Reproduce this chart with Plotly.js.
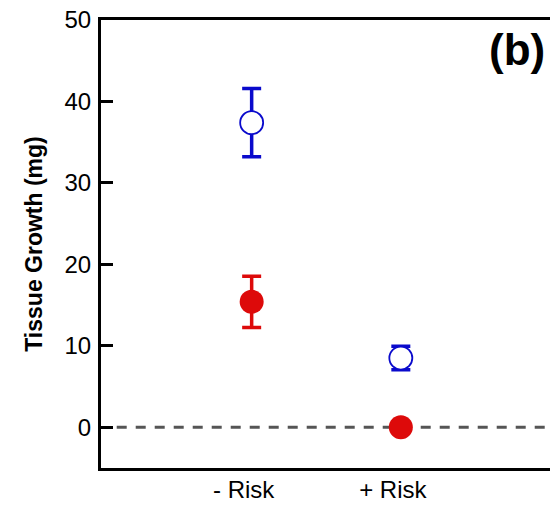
<!DOCTYPE html>
<html>
<head>
<meta charset="utf-8">
<script src="https://cdn.plot.ly/plotly-3.0.1.min.js"></script>
<style>html,body{margin:0;padding:0;background:#fff;}</style>
</head>
<body>
<div id="chart" style="width:550px;height:506px;"></div>
<script>
var categories = ["- Risk", "+ Risk"];
var openMeans = [37.4, 8.5];
var openErrors = [4.2, 1.45];
var filledMeans = [15.4, 0];
var filledErrors = [3.15, 0.5];
var yTicks = [0, 10, 20, 30, 40, 50];

var blue = "#0a0acc";
var red = "#dd0a0a";

var traces = [
  {
    x: categories, y: filledMeans, type: "scatter", mode: "markers",
    marker: {symbol: "circle", size: 24, color: red},
    error_y: {type: "data", array: filledErrors, visible: true, color: red, thickness: 3.5, width: 9.5},
    showlegend: false, hoverinfo: "skip"
  },
  {
    x: categories, y: openMeans, type: "scatter", mode: "markers",
    marker: {symbol: "circle", size: 23, color: "#ffffff", line: {color: blue, width: 1.8}},
    error_y: {type: "data", array: openErrors, visible: true, color: blue, thickness: 3.5, width: 9.5},
    showlegend: false, hoverinfo: "skip"
  }
];

var layout = {
  width: 550, height: 506,
  margin: {l: 101, r: 0, t: 20, b: 38},
  paper_bgcolor: "#fff", plot_bgcolor: "#fff",
  font: {family: "Liberation Sans, Arial, sans-serif", color: "#000"},
  xaxis: {
    type: "category", range: [-1.01, 2.0],
    showline: true, linewidth: 3, linecolor: "#000", mirror: true,
    ticks: "", showgrid: false, zeroline: false,
    tickfont: {size: 24}, ticklabelstandoff: -2, ticklabelshift: -8
  },
  yaxis: {
    range: [-5, 50], tickvals: yTicks,
    showline: true, linewidth: 3, linecolor: "#000",
    ticks: "inside", ticklen: 12, tickwidth: 3, tickcolor: "#000",
    showgrid: false, zeroline: false,
    tickfont: {size: 24}, ticklabelstandoff: 2,
    title: {text: "<b>Tissue Growth (mg)</b>", font: {size: 23}, standoff: 16}
  },
  shapes: [
    {type: "line", xref: "paper", yref: "y", x0: 0.035, x1: 1, y0: 0, y1: 0,
     line: {color: "#555", width: 3, dash: "10px,9px"}, layer: "below"}
  ],
  annotations: [
    {text: "<b>(b)</b>", xref: "paper", yref: "paper", x: 1, y: 1, xanchor: "right", yanchor: "top",
     xshift: -3, yshift: -3, showarrow: false, font: {size: 44, color: "#000"}}
  ]
};

Plotly.newPlot("chart", traces, layout, {displayModeBar: false, staticPlot: true});
</script>
</body>
</html>
